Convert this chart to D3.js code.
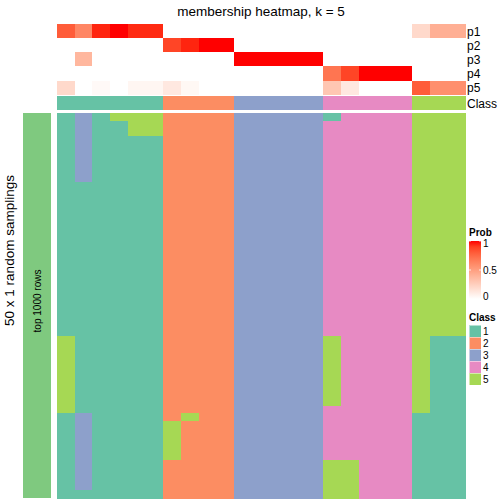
<!DOCTYPE html>
<html>
<head>
<meta charset="utf-8">
<script src="https://cdn.jsdelivr.net/npm/d3@7"></script>
<style>
html,body{margin:0;padding:0;background:#fff;}
svg text{font-family:"Liberation Sans",Arial,sans-serif;}
svg rect{shape-rendering:crispEdges;}
</style>
</head>
<body>
<svg id="chart" width="504" height="504"></svg>
<script>
// ---- data ----
const columns = d3.range(23).map(i => "s" + (i + 1));
const classLabels = ["1", "2", "3", "4", "5"];
const classColors = ["#66C2A5", "#FC8D62", "#8DA0CB", "#E78AC3", "#A6D854"];
const probRows = ["p1", "p2", "p3", "p4", "p5"];
// consensus class per column
const columnClass = [1,1,1,1,1,1, 2,2,2,2, 3,3,3,3,3, 4,4,4,4,4, 5,5,5];
// membership probabilities per column
const p1 = [0.80,0.62,0.96,1.00,0.95,0.95, 0,0,0,0, 0,0,0,0,0, 0,0,0,0,0, 0.20,0.42,0.42];
const p2 = [0,0,0,0,0,0, 0.88,0.96,1.00,1.00, 0,0,0,0,0, 0,0,0,0,0, 0,0,0];
const p3 = [0,0.38,0,0,0,0, 0,0,0,0, 1,1,1,1,1, 0,0,0,0,0, 0,0,0];
const p4 = [0,0,0,0,0,0, 0,0,0,0, 0,0,0,0,0, 0.70,0.88,1,1,1, 0,0,0];
const p5 = [0.20,0,0.03,0,0.05,0.05, 0.12,0.04,0,0, 0,0,0,0,0, 0.30,0.12,0,0,0, 0.80,0.58,0.58];
// class assigned in each of the 50 random samplings, per column, as runs of [class, rows]
const samplingRuns = [
  [[1,29],[5,10],[1,11]],
  [[3,9],[1,30],[3,10],[1,1]],
  [[1,50]],
  [[5,1],[1,49]],
  [[5,3],[1,47]],
  [[5,3],[1,47]],
  [[2,40],[5,5],[2,5]],
  [[2,39],[5,1],[2,10]],
  [[2,50]],
  [[2,50]],
  [[3,50]],[[3,50]],[[3,50]],[[3,50]],[[3,50]],
  [[1,1],[4,28],[5,9],[4,7],[5,5]],
  [[4,45],[5,5]],
  [[4,50]],[[4,50]],[[4,50]],
  [[5,39],[1,11]],
  [[5,29],[1,21]],
  [[5,29],[1,21]]
];
const nSamplings = 50;
const legendTicks = [1, 0.5, 0];

// ---- drawing ----
const svg = d3.select("#chart");
const probData = [p1, p2, p3, p4, p5];

const x = d3.scaleBand().domain(columns).range([57, 465]);
const yAnno = d3.scaleBand().domain(probRows).range([24, 94.7]);
const classY = [96, 110];
const yMain = d3.scaleBand().domain(d3.range(nSamplings)).range([113, 498]);
const probColor = d3.scaleLinear().domain([0, 1]).range(["#FFFFFF", "#FF0000"]).interpolate(d3.interpolateLab);
const classColor = d3.scaleOrdinal().domain(classLabels).range(classColors);

// title
svg.append("text").attr("x", 261).attr("y", 16).attr("text-anchor", "middle")
  .style("font-size", "13.5px").text("membership heatmap, k = 5");

// probability rows
probRows.forEach((r, ri) => {
  svg.append("g").selectAll("rect").data(probData[ri]).join("rect")
    .attr("x", (d, i) => x(columns[i]))
    .attr("y", yAnno(r))
    .attr("width", x.bandwidth() + 0.5)
    .attr("height", yAnno.bandwidth() + 0.5)
    .attr("fill", d => probColor(d));
  svg.append("text").attr("x", 467).attr("y", yAnno(r) + yAnno.bandwidth() / 2 + 4.5)
    .style("font-size", "12px").text(r);
});

// class row
svg.append("g").selectAll("rect").data(columnClass).join("rect")
  .attr("x", (d, i) => x(columns[i]))
  .attr("y", classY[0])
  .attr("width", x.bandwidth() + 0.5)
  .attr("height", classY[1] - classY[0])
  .attr("fill", d => classColor(String(d)));
svg.append("text").attr("x", 467).attr("y", (classY[0] + classY[1]) / 2 + 4.5)
  .style("font-size", "12px").text("Class");

// main sampling heatmap
const cells = [];
samplingRuns.forEach((runs, ci) => {
  let row = 0;
  runs.forEach(([cls, n]) => {
    cells.push({col: columns[ci], start: row, n: n, cls: cls});
    row += n;
  });
});
svg.append("g").selectAll("rect").data(cells).join("rect")
  .attr("x", d => x(d.col))
  .attr("y", d => yMain(d.start))
  .attr("width", x.bandwidth() + 0.5)
  .attr("height", d => d.n * yMain.step() + 0.5)
  .attr("fill", d => classColor(String(d.cls)));

// left block annotation
svg.append("rect").attr("x", 23).attr("y", 113).attr("width", 28).attr("height", 385).attr("fill", "#7FC97F");
svg.append("text").attr("transform", "translate(41,301) rotate(-90)")
  .attr("text-anchor", "middle").style("font-size", "10px").text("top 1000 rows");
svg.append("text").attr("transform", "translate(14,250.5) rotate(-90)")
  .attr("text-anchor", "middle").style("font-size", "13.5px").text("50 x 1 random samplings");

// legend: Prob
const lgX = 469;
svg.append("text").attr("x", lgX).attr("y", 236).style("font-size", "10px").style("font-weight", "bold").text("Prob");
const defs = svg.append("defs");
const grad = defs.append("linearGradient").attr("id", "pg").attr("x1", 0).attr("y1", 1).attr("x2", 0).attr("y2", 0);
d3.range(0, 1.01, 0.1).forEach(t => grad.append("stop").attr("offset", t).attr("stop-color", probColor(t)));
const gy = d3.scaleLinear().domain([0, 1]).range([299, 241]);
svg.append("rect").attr("x", lgX).attr("y", gy(1)).attr("width", 12).attr("height", gy(0) - gy(1)).attr("fill", "url(#pg)");
legendTicks.forEach(t => {
  svg.append("line").attr("x1", lgX).attr("x2", lgX + 2).attr("y1", gy(t)).attr("y2", gy(t)).attr("stroke", "#fff").attr("stroke-width", 0.8);
  svg.append("line").attr("x1", lgX + 10).attr("x2", lgX + 12).attr("y1", gy(t)).attr("y2", gy(t)).attr("stroke", "#fff").attr("stroke-width", 0.8);
  const ty = t === 1 ? gy(t) + 6 : (t === 0 ? gy(t) + 1 : gy(t) + 3.5);
  svg.append("text").attr("x", lgX + 14).attr("y", ty).style("font-size", "10px").text(String(t));
});

// legend: Class
svg.append("text").attr("x", lgX).attr("y", 321).style("font-size", "10px").style("font-weight", "bold").text("Class");
const ly = d3.scaleBand().domain(classLabels).range([325, 385]);
classLabels.forEach(c => {
  svg.append("rect").attr("x", lgX).attr("y", ly(c)).attr("width", 12).attr("height", ly.bandwidth())
    .attr("fill", classColor(c)).attr("stroke", "#fff").attr("stroke-width", 0.5);
  svg.append("text").attr("x", lgX + 14).attr("y", ly(c) + ly.bandwidth() / 2 + 3.5).style("font-size", "10px").text(c);
});
</script>
</body>
</html>
